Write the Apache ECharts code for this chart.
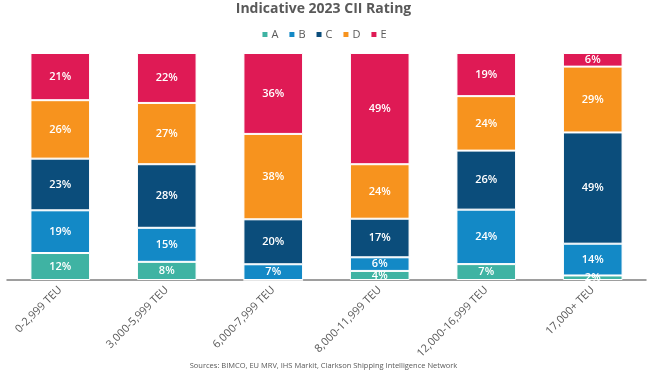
<!DOCTYPE html>
<html><head><meta charset="utf-8">
<script src="https://cdn.jsdelivr.net/npm/echarts@6/dist/echarts.min.js"></script>
<style>html,body{margin:0;padding:0;background:#fff}#c{width:647px;height:381px}</style>
</head><body><div id="c"></div>
<script>
const categories = ['0-2,999 TEU','3,000-5,999 TEU','6,000-7,999 TEU','8,000-11,999 TEU','12,000-16,999 TEU','17,000+ TEU'];
const ratingA = [12, 8, 0, 4, 7, 2];
const ratingB = [19, 15, 7, 6, 24, 14];
const ratingC = [23, 28, 20, 17, 26, 49];
const ratingD = [26, 27, 38, 24, 24, 29];
const ratingE = [21, 22, 36, 49, 19, 6];
const seriesNames = ['A','B','C','D','E'];
const colors = ['#3FB3A3','#1389C6','#0B4D7B','#F7931E','#DF1A55'];
const all = [ratingA, ratingB, ratingC, ratingD, ratingE];
const totals = categories.map((_, i) => all.reduce((s, arr) => s + arr[i], 0));

const chart = echarts.init(document.getElementById('c'));
chart.setOption({
  animation: false,
  textStyle: { fontFamily: 'Open Sans' },
  title: {
    text: 'Indicative 2023 CII Rating', left: 'center', top: -3,
    textStyle: { fontSize: 14, fontWeight: 'bold', color: '#595959', fontFamily: 'Open Sans' }
  },
  legend: {
    top: 24, left: 'center', itemWidth: 7, itemHeight: 7, itemGap: 9,
    icon: 'rect',
    textStyle: { fontSize: 11, color: '#595959', padding: [0,0,0,-2] },
    data: seriesNames
  },
  grid: { left: 7, right: 1, top: 53, bottom: 101 },
  xAxis: {
    type: 'category', data: categories,
    axisLine: { lineStyle: { color: '#7f7f7f', width: 1.5 } },
    axisTick: { show: false },
    axisLabel: { rotate: 45, fontSize: 11, color: '#595959', margin: 8, interval: 0 }
  },
  yAxis: { type: 'value', min: 0, max: 100, show: false, splitLine: { show: false } },
  series: all.map((arr, si) => ({
    name: seriesNames[si], type: 'bar', stack: 'all', barWidth: '56%',
    itemStyle: { color: colors[si], borderColor: '#fff', borderWidth: 1 },
    label: {
      show: true, color: '#fff', fontSize: 11, fontWeight: 600,
      formatter: p => arr[p.dataIndex] > 0 ? arr[p.dataIndex] + '%' : ''
    },
    data: arr.map((v, i) => v / totals[i] * 100)
  })),
  graphic: [{
    type: 'text', left: 'center', top: 362,
    style: { text: 'Sources: BIMCO, EU MRV, IHS Markit, Clarkson Shipping Intelligence Network', fontSize: 7.5, fill: '#595959', fontFamily: 'Open Sans' }
  }]
});
</script></body></html>
